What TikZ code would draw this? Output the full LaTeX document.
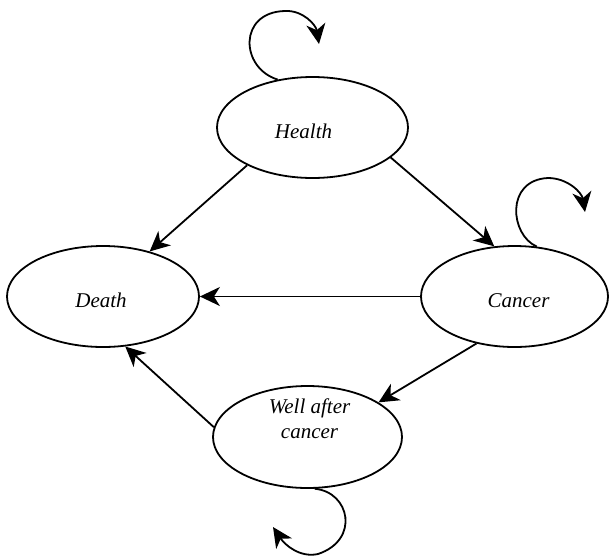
\documentclass[tikz,border=0pt]{standalone}
\usepackage{fontspec}
\setmainfont{Liberation Serif}
\usetikzlibrary{shapes.geometric,arrows.meta}
\begin{document}
\begin{tikzpicture}[x=1pt,y=-1pt,
  state/.style={draw, ellipse, line width=1.8pt, inner sep=0pt},
  lab/.style={anchor=base, font=\fontsize{21}{25}\selectfont\itshape, align=center, inner sep=0pt},
  conn/.style={line width=1.8pt, -{Stealth[length=20pt,width=19pt,inset=6pt]}}]
\useasboundingbox (0,0) rectangle (609,557);
% states
\node[state, minimum width=191pt, minimum height=101pt] (health) at (312.5,127.5) {};
\node[state, minimum width=192pt, minimum height=101pt] (death) at (103,296.5) {};
\node[state, minimum width=187pt, minimum height=101pt] (cancer) at (514.5,296.5) {};
\node[state, minimum width=189pt, minimum height=102pt] (well) at (307.5,437) {};
% labels
\node[lab] (thealth) at (303.5,138) {Health};
\node[lab] (tdeath) at (101,307) {Death};
\node[lab] (tcancer) at (518.5,307) {Cancer};
\node[lab] (twell) at (309.5,438) {Well after\\cancer};
% transitions
\draw[conn] (health.210) -- (death.44);
\draw[conn] (health.-21.5) -- (cancer.112);
\draw[conn] (cancer.180) -- (death.0);
\draw[conn] (cancer.231) -- (well.26);
\draw[conn] (well.174) -- (death.-66);
% self loops
\coordinate (hloop) at (319,44);
\coordinate (cloop) at (585,212);
\coordinate (wloop) at (273,527);
\draw[conn] (health.126) .. controls (240,68) and (238,12) .. (285,11)
  .. controls (303,10) and (316,25) .. (hloop);
\draw[conn] (cancer.66) .. controls (510,235) and (505,180) .. (548,178)
  .. controls (568,178) and (582,193) .. (cloop);
\draw[conn] (well.-82) .. controls (350,492) and (360,540) .. (318,554)
  .. controls (300,558) and (285,545) .. (wloop);
\end{tikzpicture}
\end{document}
